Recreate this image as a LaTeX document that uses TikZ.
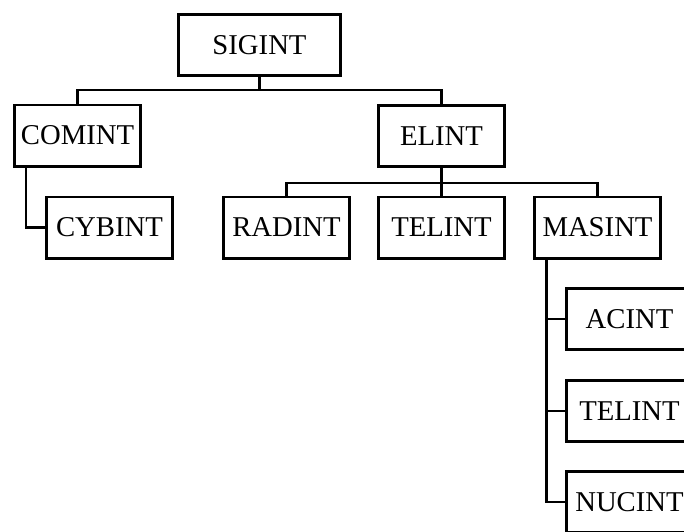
\documentclass[tikz,border=0pt]{standalone}
\usepackage{fontspec}
\setmainfont{Liberation Serif}
\begin{document}
\begin{tikzpicture}[x=1pt,y=-1pt,
  box/.style={draw=black,line width=2.7pt,minimum width=126.3pt,minimum height=61.3pt,inner sep=0pt,font=\fontsize{28.7}{30}\selectfont},
  link/.style={draw=black,line width=2.7pt}]
\clip (0,0) rectangle (684,531);
\node[box,minimum width=162.3pt] (sig) at (259.5,45) {SIGINT};
\node[box] (com) at (77.5,135.5) {COMINT};
\node[box] (eli) at (441.5,136) {ELINT};
\node[box] (cyb) at (109.5,227.5) {CYBINT};
\node[box] (rad) at (286.5,227.5) {RADINT};
\node[box] (tel) at (441.5,227.5) {TELINT};
\node[box] (mas) at (597.5,227.5) {MASINT};
\node[box] (aci) at (629.5,319) {ACINT};
\node[box] (te2) at (629.5,411) {TELINT};
\node[box] (nuc) at (629.5,502) {NUCINT};
\coordinate (h1) at (0,90);
\coordinate (h2) at (0,183);
\coordinate (v1) at (26,0);
\coordinate (v2) at (546.5,0);
\draw[link] (sig.south) -- (sig.south |- h1) -| (com.north);
\draw[link] (sig.south |- h1) -| (eli.north);
\draw[link] (com.south -| v1) |- (cyb.west);
\draw[link] (eli.south) -- (eli.south |- h2) -| (rad.north);
\draw[link] (eli.south |- h2) -- (tel.north);
\draw[link] (eli.south |- h2) -| (mas.north);
\draw[link] (mas.south -| v2) |- (aci.west);
\draw[link] (mas.south -| v2) |- (te2.west);
\draw[link] (mas.south -| v2) |- (nuc.west);
\end{tikzpicture}
\end{document}
